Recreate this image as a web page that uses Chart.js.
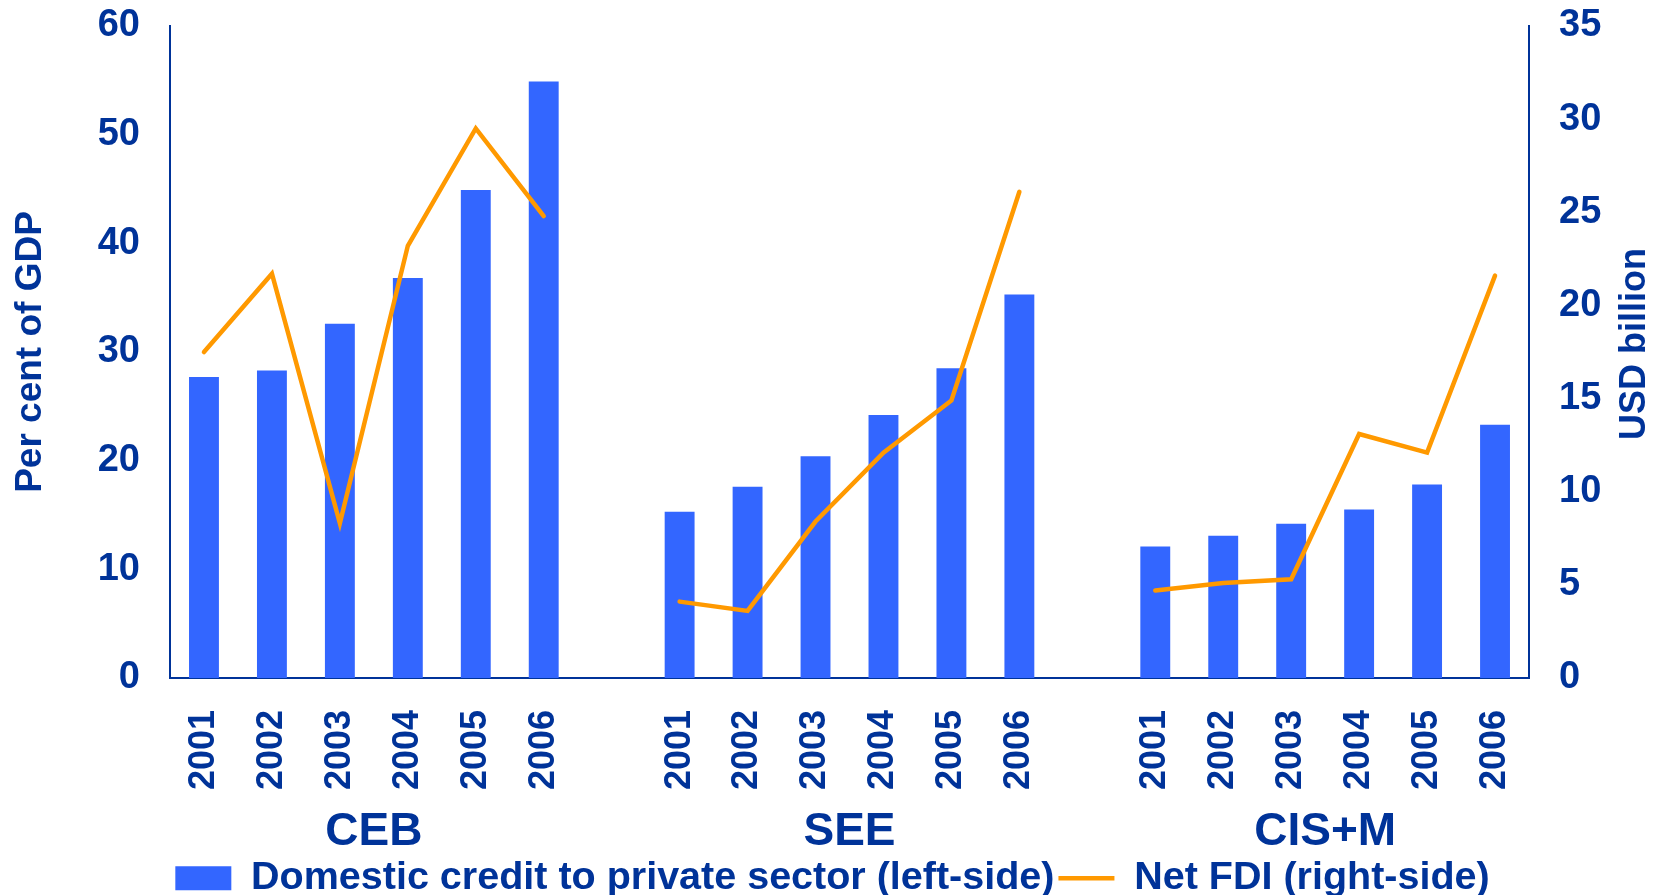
<!DOCTYPE html>
<html><head><meta charset="utf-8">
<script src="https://cdn.jsdelivr.net/npm/chart.js@4.4.1/dist/chart.umd.min.js"></script>
<style>html,body{margin:0;padding:0;background:#fff;overflow:hidden}</style>
</head><body>
<canvas id="c" width="1665" height="895"></canvas>
<script>
const groups = ['CEB', 'SEE', 'CIS+M'];
const years = ['2001', '2002', '2003', '2004', '2005', '2006'];
const creditCEB = [27.7, 28.3, 32.6, 36.8, 44.9, 54.9];
const creditSEE = [15.3, 17.6, 20.4, 24.2, 28.5, 35.3];
const creditCIS = [12.1, 13.1, 14.2, 15.5, 17.8, 23.3];
const fdiCEB = [17.5, 21.7, 8.3, 23.2, 29.5, 24.8];
const fdiSEE = [4.1, 3.6, 8.4, 12.1, 14.9, 26.1];
const fdiCIS = [4.7, 5.1, 5.3, 13.1, 12.1, 21.6];
const leftTicks = [0, 10, 20, 30, 40, 50, 60];
const rightTicks = [0, 5, 10, 15, 20, 25, 30, 35];
const leftTitle = 'Per cent of GDP';
const rightTitle = 'USD billion';

const NAVY = '#003399';
const FONT = "'Liberation Sans', Arial, sans-serif";

const labels = [...years, '', ...years, '', ...years];
const creditData = [...creditCEB, null, ...creditSEE, null, ...creditCIS];
const fdiData = [...fdiCEB, null, ...fdiSEE, null, ...fdiCIS];
const groupCenters = groups.map((g, i) => i * (years.length + 1) + (years.length - 1) / 2);

// Right-axis title reads bottom-to-top as in the reference
const rightTitlePlugin = {
  id: 'rightTitle',
  afterDraw(chart) {
    const s = chart.scales.y1;
    const ctx = chart.ctx;
    ctx.save();
    ctx.fillStyle = NAVY;
    ctx.font = "bold 36px 'Liberation Sans', Arial, sans-serif";
    ctx.textAlign = 'center';
    ctx.textBaseline = 'middle';
    ctx.translate(s.right - 30, (s.top + s.bottom) / 2 - 8);
    ctx.rotate(-Math.PI / 2);
    ctx.fillText(rightTitle, 0, 0);
    ctx.restore();
  }
};

new Chart(document.getElementById('c'), {
  data: {
    labels: labels,
    datasets: [
      {
        type: 'bar',
        label: 'Domestic credit to private sector (left-side)',
        data: creditData,
        backgroundColor: '#3366FF',
        borderWidth: 0,
        barPercentage: 0.44,
        categoryPercentage: 1.0,
        yAxisID: 'y',
        xAxisID: 'x',
        order: 2,
        pointStyle: 'rect'
      },
      {
        type: 'line',
        label: 'Net FDI (right-side)',
        data: fdiData,
        borderColor: '#FF9900',
        backgroundColor: '#FF9900',
        borderWidth: 4.5,
        pointRadius: 0,
        pointHoverRadius: 0,
        pointStyle: 'line',
        spanGaps: false,
        tension: 0,
        borderCapStyle: 'round',
        borderJoinStyle: 'miter',
        yAxisID: 'y1',
        xAxisID: 'x',
        order: 1
      }
    ]
  },
  plugins: [rightTitlePlugin],
  options: {
    responsive: false,
    animation: false,
    devicePixelRatio: 1,
    layout: { padding: { top: 26, left: 0, right: 0, bottom: -13 } },
    plugins: {
      tooltip: { enabled: false },
      legend: {
        position: 'bottom',
        labels: {
          color: NAVY,
          font: { family: FONT, size: 39.5, weight: 'bold', lineHeight: 1 },
          usePointStyle: true,
          pointStyleWidth: 56,
          boxHeight: 24,
          padding: 4,
          sort: (a, b) => a.datasetIndex - b.datasetIndex
        }
      }
    },
    scales: {
      x: {
        type: 'category',
        position: 'bottom',
        grid: { display: false, drawTicks: false },
        border: { display: true, color: NAVY, width: 2 },
        ticks: {
          color: NAVY,
          font: { family: FONT, size: 36, weight: 'bold', lineHeight: 1 },
          minRotation: 90, maxRotation: 90,
          autoSkip: false,
          padding: 32
        },
        afterFit: (s) => { s.height = 129; }
      },
      x2: {
        type: 'linear',
        position: 'bottom',
        min: -0.5, max: labels.length - 0.5,
        grid: { display: false, drawTicks: false },
        border: { display: false },
        afterBuildTicks: (s) => { s.ticks = groupCenters.map(v => ({ value: v })); },
        ticks: {
          color: NAVY,
          font: { family: FONT, size: 46, weight: 'bold', lineHeight: 1 },
          autoSkip: false, maxRotation: 0, minRotation: 0,
          padding: 2,
          callback: (v) => { const i = groupCenters.indexOf(v); return i >= 0 ? groups[i] : ''; }
        },
        afterFit: (s) => { s.height = 47.5; }
      },
      y: {
        type: 'linear',
        position: 'left',
        min: 0, max: 60,
        grid: { display: false, drawTicks: false },
        border: { display: true, color: NAVY, width: 2 },
        afterBuildTicks: (s) => { s.ticks = leftTicks.map(v => ({ value: v })); },
        ticks: {
          color: NAVY,
          font: { family: FONT, size: 38, weight: 'bold' },
          padding: 30
        },
        title: {
          display: true,
          text: leftTitle,
          color: NAVY,
          font: { family: FONT, size: 37, weight: 'bold', lineHeight: 1.2 },
          padding: { top: 9, bottom: 0 }
        },
        afterFit: (s) => { s.width = 170; s.paddingTop = 0; s.paddingBottom = 0; }
      },
      y1: {
        type: 'linear',
        position: 'right',
        min: 0, max: 35,
        grid: { display: false, drawTicks: false },
        border: { display: true, color: NAVY, width: 2 },
        afterBuildTicks: (s) => { s.ticks = rightTicks.map(v => ({ value: v })); },
        ticks: {
          color: NAVY,
          font: { family: FONT, size: 38, weight: 'bold' },
          padding: 30
        },
        title: { display: false },
        afterFit: (s) => { s.width = 136; s.paddingTop = 0; s.paddingBottom = 0; }
      }
    }
  }
});
</script>
</body></html>
